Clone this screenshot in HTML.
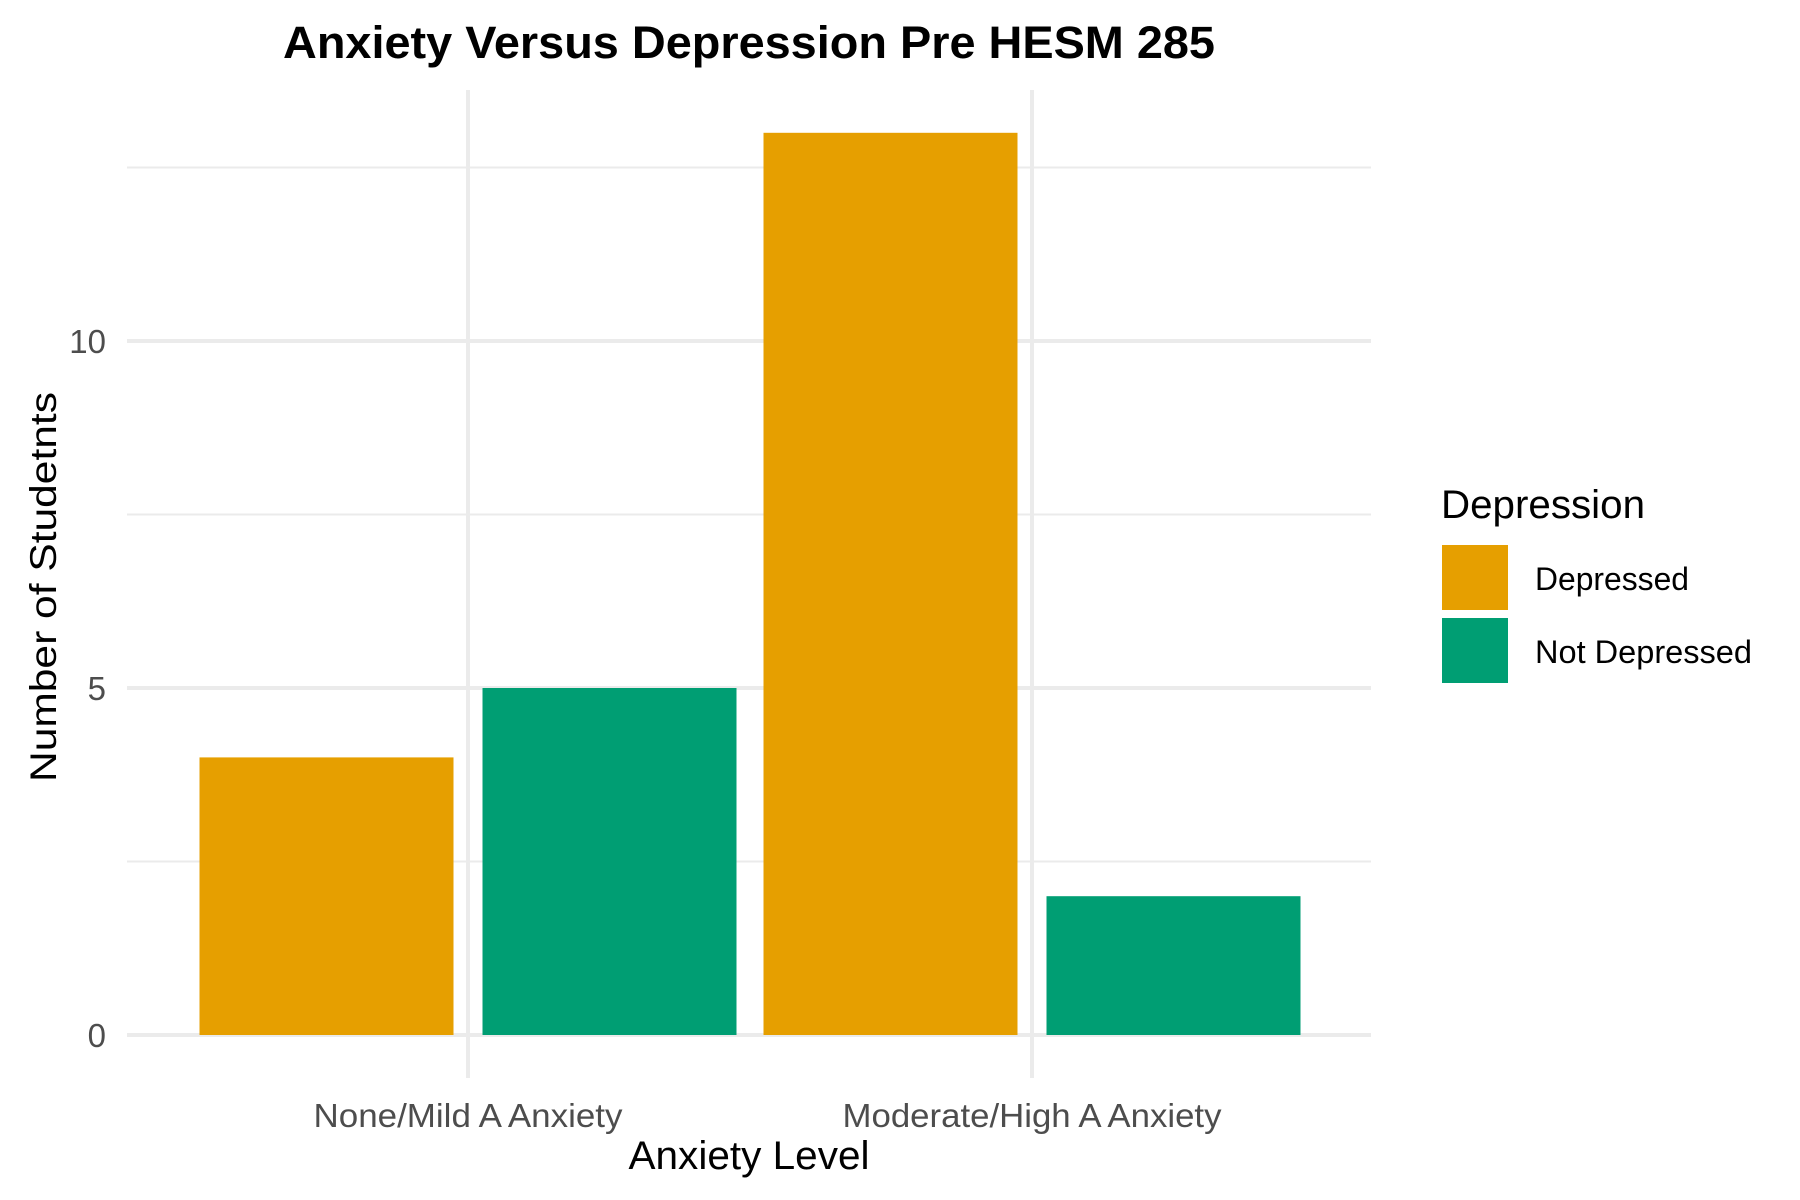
<!DOCTYPE html>
<html>
<head>
<meta charset="utf-8">
<style>
  html, body { margin: 0; padding: 0; background: #fff; }
  svg { display: block; font-family: "Liberation Sans", sans-serif; }
</style>
</head>
<body>
<svg id="chart" width="1800" height="1200" viewBox="0 0 1800 1200" xmlns="http://www.w3.org/2000/svg">
  <rect x="0" y="0" width="1800" height="1200" fill="#ffffff"/>
  <g id="grid"></g>
  <g id="bars"></g>
  <g id="yticks"></g>
  <g id="xticks"></g>
  <text x="749" y="58" text-anchor="middle" font-size="45" font-weight="bold" fill="#000" textLength="932" lengthAdjust="spacingAndGlyphs">Anxiety Versus Depression Pre HESM 285</text>
  <text x="749" y="1169" text-anchor="middle" font-size="40" fill="#000" textLength="241" lengthAdjust="spacingAndGlyphs">Anxiety Level</text>
  <text transform="translate(56,587) rotate(-90)" text-anchor="middle" font-size="37" fill="#000" textLength="390" lengthAdjust="spacingAndGlyphs">Number of Studetnts</text>
  <g id="legend">
    <text x="1441" y="518" font-size="40" fill="#000" textLength="204" lengthAdjust="spacingAndGlyphs">Depression</text>
  </g>
</svg>
<script>
const categories = ["None/Mild A Anxiety", "Moderate/High A Anxiety"];
const seriesNames = ["Depressed", "Not Depressed"];
const depressedValues = [4, 13];
const notDepressedValues = [5, 2];
const yTickValues = [0, 5, 10];
const yMinorValues = [2.5, 7.5, 12.5];

const NS = "http://www.w3.org/2000/svg";
const colors = ["#E69F00", "#009E73"];
const panel = { left: 127, right: 1371, top: 90, bottom: 1078 };
const y0 = 1035, unit = 69.4;
function yScale(v) { return y0 - v * unit; }
const catCenters0 = 468, catStep = 564;
function xCenter(i) { return catCenters0 + i * catStep; }
const barW = 254, barGap = 29;

function mk(tag, attrs, parent) {
  const el = document.createElementNS(NS, tag);
  for (const k in attrs) el.setAttribute(k, attrs[k]);
  parent.appendChild(el);
  return el;
}
const grid = document.getElementById("grid");
yMinorValues.forEach(v => {
  const l = mk("line", { x1: panel.left, x2: panel.right, y1: yScale(v), y2: yScale(v), stroke: "#ebebeb", "stroke-width": 2 }, grid);
  
  
});
yTickValues.forEach(v => {
  const l = mk("line", { x1: panel.left, x2: panel.right, y1: yScale(v), y2: yScale(v), stroke: "#ebebeb", "stroke-width": 4 }, grid);
  
  
});
categories.forEach((c, i) => {
  const l = mk("line", { x1: xCenter(i), x2: xCenter(i), y1: panel.top, y2: panel.bottom, stroke: "#ebebeb", "stroke-width": 4 }, grid);
  
  
});

const bars = document.getElementById("bars");
const seriesValues = [depressedValues, notDepressedValues];
categories.forEach((c, i) => {
  seriesValues.forEach((vals, s) => {
    const x = s === 0 ? xCenter(i) - barGap / 2 - barW : xCenter(i) + barGap / 2;
    const r = mk("rect", { x: x, y: yScale(vals[i]), width: barW, height: y0 - yScale(vals[i]), fill: colors[s] }, bars);
    
    
  });
});

const yt = document.getElementById("yticks");
yTickValues.forEach(v => {
  const t = mk("text", { x: 106, y: yScale(v) + 12, "text-anchor": "end", "font-size": 33, fill: "#4d4d4d" }, yt);
  t.textContent = v;
  
  
});
const xt = document.getElementById("xticks");
const xLabelWidths = [309, 379];
categories.forEach((c, i) => {
  const t = mk("text", { x: xCenter(i), y: 1127, "text-anchor": "middle", "font-size": 33, fill: "#4d4d4d", textLength: xLabelWidths[i], lengthAdjust: "spacingAndGlyphs" }, xt);
  t.textContent = c;
  
  
});

const lg = document.getElementById("legend");
const legendLabelWidths = [154, 217];
seriesNames.forEach((n, s) => {
  const top = 545 + s * 73;
  const r = mk("rect", { x: 1442, y: top, width: 66, height: 65, fill: colors[s] }, lg);
  
  
  const t = mk("text", { x: 1535, y: top + 45, "font-size": 32, fill: "#000", textLength: legendLabelWidths[s], lengthAdjust: "spacingAndGlyphs" }, lg);
  t.textContent = n;
  
  
});
</script>
</body>
</html>
